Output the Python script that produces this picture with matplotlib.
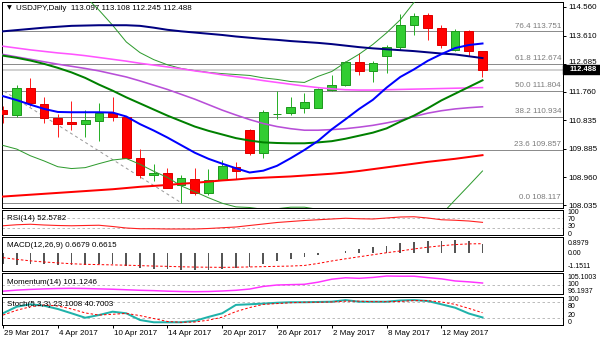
import matplotlib
matplotlib.use("Agg")
import matplotlib.pyplot as plt
import matplotlib.transforms as mtransforms
from matplotlib.patches import Rectangle

plt.rcParams["font.family"] = ["Liberation Sans", "DejaVu Sans"]

# ---------------- data ----------------
symbol = "USDJPY,Daily"
date_labels = ["29 Mar 2017", "4 Apr 2017", "10 Apr 2017", "14 Apr 2017", "20 Apr 2017",
               "26 Apr 2017", "2 May 2017", "8 May 2017", "12 May 2017"]
date_pos = [0, 4, 8, 12, 16, 20, 24, 28, 32]

opens = [111.16, 110.99, 111.89, 111.37, 110.91, 110.76, 110.69, 110.81, 111.07, 110.94,
         109.60, 109.02, 109.08, 108.70, 108.91, 108.43, 108.87, 109.30, 110.50, 109.76,
         111.02, 111.05, 111.24, 111.24, 111.82, 111.97, 112.73, 112.46, 112.95, 113.23,
         113.97, 114.30, 113.86, 113.13, 113.75, 113.097]
highs = [111.29, 111.97, 112.20, 111.60, 111.02, 111.47, 111.16, 111.40, 111.59, 110.96,
         109.87, 109.38, 109.25, 109.02, 109.25, 109.22, 109.51, 109.45, 110.55, 111.18,
         111.78, 111.60, 111.73, 111.89, 112.33, 112.76, 113.04, 112.77, 113.29, 114.33,
         114.35, 114.35, 113.95, 113.83, 113.80, 113.108]
lows = [110.75, 110.94, 111.29, 110.75, 110.28, 110.50, 110.29, 110.14, 110.80, 109.58,
        108.94, 108.83, 108.59, 108.117, 108.36, 108.36, 108.87, 108.91, 109.67, 109.60,
        110.86, 110.99, 111.05, 111.22, 111.78, 111.94, 112.30, 112.08, 112.39, 113.12,
        113.62, 113.46, 113.20, 113.09, 112.93, 112.245]
closes = [111.02, 111.89, 111.40, 110.89, 110.72, 110.72, 110.82, 111.07, 110.94, 109.60,
          109.02, 109.11, 108.59, 108.94, 108.43, 108.87, 109.32, 109.16, 109.74, 111.09,
          111.03, 111.26, 111.44, 111.84, 111.98, 112.73, 112.44, 112.71, 113.23, 113.97,
          114.24, 113.86, 113.31, 113.75, 113.10, 112.488]

ma_navy = [113.75, 113.79, 113.83, 113.87, 113.90, 113.93, 113.94, 113.95, 113.95, 113.95,
           113.93, 113.87, 113.80, 113.75, 113.71, 113.67, 113.63, 113.58, 113.54, 113.50,
           113.47, 113.43, 113.40, 113.37, 113.33, 113.28, 113.23, 113.19, 113.16, 113.13,
           113.10, 113.06, 113.02, 112.99, 112.93, 112.87]
ma_blue = [111.62, 111.49, 111.34, 111.20, 111.10, 111.09, 111.09, 111.09, 111.08, 110.95,
           110.70, 110.49, 110.26, 110.01, 109.76, 109.56, 109.40, 109.25, 109.11, 109.17,
           109.33, 109.58, 109.85, 110.15, 110.53, 110.86, 111.20, 111.50, 111.90, 112.25,
           112.50, 112.78, 113.00, 113.20, 113.30, 113.35]
ma_green = [112.95, 112.88, 112.79, 112.68, 112.55, 112.40, 112.22, 112.00, 111.80, 111.58,
            111.38, 111.18, 110.98, 110.80, 110.62, 110.48, 110.36, 110.24, 110.16, 110.10,
            110.08, 110.07, 110.07, 110.10, 110.14, 110.22, 110.32, 110.42, 110.56, 110.78,
            110.98, 111.22, 111.48, 111.70, 111.92, 112.14]
ma_purple = [112.99, 112.91, 112.83, 112.75, 112.67, 112.60, 112.53, 112.45, 112.35, 112.25,
             112.12, 111.98, 111.84, 111.68, 111.52, 111.34, 111.16, 111.00, 110.85, 110.72,
             110.62, 110.55, 110.50, 110.50, 110.52, 110.55, 110.60, 110.66, 110.74, 110.83,
             110.95, 111.06, 111.14, 111.20, 111.24, 111.27]
ma_pink = [113.26, 113.20, 113.14, 113.09, 113.04, 113.00, 112.95, 112.89, 112.83, 112.77,
           112.70, 112.64, 112.58, 112.52, 112.45, 112.39, 112.32, 112.26, 112.20, 112.13,
           112.07, 112.01, 111.95, 111.90, 111.86, 111.83, 111.82, 111.82, 111.83, 111.84,
           111.85, 111.86, 111.87, 111.88, 111.89, 111.90]
ma_red = [108.32, 108.35, 108.38, 108.41, 108.44, 108.47, 108.50, 108.53, 108.56, 108.60,
          108.64, 108.67, 108.70, 108.74, 108.77, 108.81, 108.85, 108.88, 108.92, 108.94,
          108.96, 108.98, 109.01, 109.04, 109.07, 109.11, 109.16, 109.22, 109.28, 109.34,
          109.40, 109.46, 109.51, 109.56, 109.62, 109.68]
band_upper = [115.60, 115.60, 115.55, 115.50, 115.40, 115.20, 114.90, 114.45, 113.95, 113.40,
              113.05, 112.82, 112.65, 112.53, 112.46, 112.40, 112.36, 112.33, 112.30, 112.22,
              112.17, 112.10, 112.07, 112.27, 112.43, 112.73, 113.00, 113.32, 113.70, 114.13,
              114.70, 115.30, 115.80, 116.20, 116.50, 116.70]
band_lower = [110.00, 109.88, 109.66, 109.49, 109.30, 109.24, 109.27, 109.40, 109.52, 109.57,
              109.38, 109.15, 108.95, 108.67, 108.48, 108.28, 108.10, 107.98, 107.96, 107.90,
              107.92, 107.97, 107.97, 107.90, 107.80, 107.70, 107.60, 107.50, 107.40, 107.45,
              107.55, 107.65, 107.73, 108.21, 108.68, 109.16]

fib_ratios = [0.0, 23.6, 38.2, 50.0, 61.8, 76.4]
fib_prices = [108.117, 109.857, 110.934, 111.804, 112.674, 113.751]
fib_anchor_bars = [-13, 13]
fib_anchor_prices = [115.489, 108.117]

price_ticks = [114.560, 113.610, 112.685, 111.760, 110.835, 109.885, 108.960, 108.035]

rsi = [39, 43, 45, 42, 40, 39, 40, 41, 36, 30, 27, 27, 26, 26, 26, 28, 31, 34, 40, 46,
       52, 56, 60, 63, 66, 69, 67, 66, 70, 74, 75, 70, 63, 61, 58, 52.5782]
macd_main = [-0.76, -0.78, -0.76, -0.76, -0.78, -0.81, -0.78, -0.74, -0.76, -0.90,
             -0.99, -1.07, -1.09, -1.14, -1.1511, -1.14, -1.08, -1.00, -0.92, -0.76,
             -0.55, -0.38, -0.23, -0.10, 0.02, 0.18, 0.33, 0.41, 0.53, 0.69,
             0.80, 0.86, 0.87, 0.8979, 0.85, 0.6679]
macd_signal = [-0.30, -0.42, -0.52, -0.60, -0.66, -0.72, -0.76, -0.78, -0.80, -0.82,
               -0.85, -0.88, -0.90, -0.93, -0.95, -0.96, -0.97, -0.96, -0.94, -0.92,
               -0.90, -0.88, -0.84, -0.70, -0.53, -0.38, -0.24, -0.10, 0.04, 0.16,
               0.30, 0.42, 0.52, 0.60, 0.65, 0.6615]
momentum = [96.5, 97.1, 97.5, 97.8, 98.0, 98.1, 98.0, 97.8, 97.6, 97.3,
            97.0, 96.8, 96.5, 96.3, 96.1937, 96.3, 96.6, 97.0, 97.7, 99.2,
            100.0, 100.2, 100.4, 101.6, 103.3, 104.1, 103.8, 104.3, 105.1003, 105.0,
            105.0, 104.2, 103.5, 102.3, 101.8, 101.1246]
stoch_main = [38.6, 63.3, 72.3, 67.0, 54.7, 38.6, 22.0, 32.0, 44.6, 38.6,
              13.5, 5.0, 5.0, 5.0, 10.0, 25.0, 38.6, 70.0, 72.3, 75.0,
              78.0, 80.0, 80.0, 81.0, 82.0, 88.0, 82.0, 82.0, 82.0, 86.5,
              88.0, 84.6, 72.3, 59.5, 37.8, 23.1008]
stoch_signal = [32, 50, 63, 70, 66, 55, 40, 32, 35, 38, 30, 19, 8, 5, 6, 13, 24, 45, 60, 72,
                75, 78, 80, 80, 81, 84, 84, 82, 82, 83, 86, 86, 81, 72, 57, 40.7003]

# ---------------- layout helpers ----------------
W, H = 600, 343
PX = 0.72           # one pixel in points at 100 dpi
FS = 5.8
FS_SCALE = 5.0      # indicator scale labels
fig = plt.figure(figsize=(W / 100, H / 100), dpi=100)


def rect(x0, y0, x1, y1):
    return [x0 / W, 1 - y1 / H, (x1 - x0) / W, (y1 - y0) / H]


def ftext(x, y, s, **kw):
    fig.text(x / W, 1 - y / H, s, va="center", fontsize=kw.pop("fontsize", FS), **kw)


def scale_labels(items):
    for y, s in items:
        ftext(567.5, y, s, fontsize=FS_SCALE)


XLIM = (-0.073, 40.876)
n = len(closes)
xs = list(range(n))

ax = fig.add_axes(rect(2, 1.5, 563, 207.5))
ax_rsi = fig.add_axes(rect(2, 209.5, 563, 235))
ax_macd = fig.add_axes(rect(2, 237.3, 563, 271))
ax_mom = fig.add_axes(rect(2, 273.3, 563, 294))
ax_sto = fig.add_axes(rect(2, 296.7, 563, 325))
panels = [ax, ax_rsi, ax_macd, ax_mom, ax_sto]

for a in panels:
    a.set_xlim(*XLIM)
    a.set_facecolor("white")
    for sp in a.spines.values():
        sp.set_linewidth(PX)
        sp.set_color("black")
    a.tick_params(axis="x", bottom=False, labelbottom=False)
    a.tick_params(axis="y", left=False, labelleft=False, right=True, labelright=True,
                  direction="out", length=3 * PX, width=PX, pad=1.5, labelsize=FS)

# ---------------- main price panel ----------------
ax.set_ylim(107.96, 114.73)

for r, p in zip(fib_ratios, fib_prices):
    ax.axhline(p, color="#8c8c8c", lw=PX, zorder=1)
    ax.annotate(f"{r:.1f} {p:.3f}", xy=(0.9965, p), xycoords=("axes fraction", "data"),
                xytext=(0, 1.2), textcoords="offset points", ha="right", va="bottom",
                color="#7a7a7a", fontsize=FS)
ax.plot(fib_anchor_bars, fib_anchor_prices, color="#9a9a9a", lw=PX,
        ls=(0, (3, 3)), zorder=1)

# bid line
ax.axhline(closes[-1], color="#d2d2d2", lw=2 * PX, zorder=0.5)

for i in xs:
    o, h, l, c = opens[i], highs[i], lows[i], closes[i]
    up = c >= o
    wick = "#2ab02a" if up else "#ff2020"
    fill = "#32cd32" if up else "#ff0000"
    edge = "#1f9a1f" if up else "#e00000"
    ax.vlines(i, l, h, color=wick, lw=PX, zorder=2)
    body = max(abs(c - o), 0.004)
    ax.bar(i, body, bottom=min(o, c), width=0.64, color=fill, edgecolor=edge,
           linewidth=PX, zorder=3)

ax.plot(xs, band_upper, color="#2e9b2e", lw=PX, zorder=4)
ax.plot(xs, band_lower, color="#2e9b2e", lw=PX, zorder=4)
ax.plot(xs, ma_red, color="#ff0000", lw=2 * PX, zorder=5)
ax.plot(xs, ma_pink, color="#ff55ff", lw=1.6 * PX, zorder=5)
ax.plot(xs, ma_purple, color="#b84fd8", lw=1.6 * PX, zorder=5)
ax.plot(xs, ma_green, color="#008000", lw=2 * PX, zorder=5)
ax.plot(xs, ma_navy, color="#000080", lw=2 * PX, zorder=5)
ax.plot(xs, ma_blue, color="#0000ff", lw=2 * PX, zorder=5)

ax.set_yticks(price_ticks)
ax.set_yticklabels([f"{t:.3f}" for t in price_ticks])
# the scale label just above the price tag sits a little higher so both stay legible
lift = mtransforms.ScaledTranslation(0, 2.2 / 100, fig.dpi_scale_trans)
for lbl in ax.get_yticklabels():
    if lbl.get_text() == "112.685":
        lbl.set_transform(lbl.get_transform() + lift)

# current price tag
tag_tr = mtransforms.blended_transform_factory(fig.transFigure, ax.transData)
tag_h = 9 / 30.42
fig.add_artist(Rectangle((563 / W, closes[-1] - tag_h / 2), 37 / W, tag_h,
                         transform=tag_tr, facecolor="black", edgecolor="black",
                         zorder=10, clip_on=False))
fig.text(583 / W, closes[-1], f"{closes[-1]:.3f}", transform=tag_tr, ha="center",
         va="center", color="white", fontsize=5.5, fontweight="bold", zorder=11)

ftext(6.5, 8, "\u25bc", fontsize=4.5, family="DejaVu Sans")
ftext(16, 8, f"{symbol}  {opens[-1]:.3f} {highs[-1]:.3f} {lows[-1]:.3f} {closes[-1]:.3f}")

# ---------------- RSI ----------------
ax_rsi.set_ylim(2, 104)
for lvl in (70, 30):
    ax_rsi.axhline(lvl, color="#bdbdbd", lw=PX, ls=(0, (2.5, 2.5)))
ax_rsi.plot(xs, rsi, color="#ff2020", lw=1.1 * PX)
ax_rsi.set_yticks([])
ftext(7, 218, f"RSI(14) {rsi[-1]:.4f}")
scale_labels([(212.3, "100"), (219.3, "70"), (227.0, "30"), (234.0, "0")])

# ---------------- MACD ----------------
ax_macd.set_ylim(-1.221, 1.103)
ax_macd.bar(xs, macd_main, width=0.13, color="#555555")
ax_macd.plot(xs, macd_signal, color="#ff0000", lw=PX, ls=(0, (2.5, 2)))
ax_macd.set_yticks([])
ftext(7, 245.5, f"MACD(12,26,9) {macd_main[-1]:.4f} {macd_signal[-1]:.4f}")
scale_labels([(243.3, f"{max(macd_main):.4f}"), (253.3, "0.00"),
              (266.0, f"{min(macd_main):.4f}")])

# ---------------- Momentum ----------------
ax_mom.set_ylim(94.89, 106.65)
ax_mom.axhline(100, color="#bdbdbd", lw=PX, ls=(0, (2.5, 2.5)))
ax_mom.plot(xs, momentum, color="#ff33ff", lw=1.5 * PX)
ax_mom.set_yticks([])
ftext(7, 282, f"Momentum(14) {momentum[-1]:.4f}")
scale_labels([(277.3, f"{max(momentum):.4f}"), (284.5, "100"),
              (291.7, f"{min(momentum):.4f}")])

# ---------------- Stochastic ----------------
ax_sto.set_ylim(-5.2, 100.7)
for lvl in (80, 20):
    ax_sto.axhline(lvl, color="#bdbdbd", lw=PX, ls=(0, (2.5, 2.5)))
ax_sto.plot(xs, stoch_main, color="#20b2aa", lw=2 * PX)
ax_sto.plot(xs, stoch_signal, color="#ff0000", lw=PX, ls=(0, (2.5, 2)))
ax_sto.set_yticks([])
ftext(7, 304, f"Stoch(5,3,3) {stoch_main[-1]:.4f} {stoch_signal[-1]:.4f}")
scale_labels([(299.3, "100"), (306.3, "80"), (315.5, "20"), (322.5, "0")])

ax_sto.tick_params(axis="x", bottom=True, labelbottom=True, direction="out",
                   length=3 * PX, width=PX, pad=1.2, labelsize=FS)
ax_sto.set_xticks(date_pos)
ax_sto.set_xticklabels(date_labels)
shift = mtransforms.ScaledTranslation(1 / 100, 0, fig.dpi_scale_trans)
for lbl in ax_sto.get_xticklabels():
    lbl.set_ha("left")
    lbl.set_transform(lbl.get_transform() + shift)

fig.savefig("out.png", dpi=100, facecolor="white")
